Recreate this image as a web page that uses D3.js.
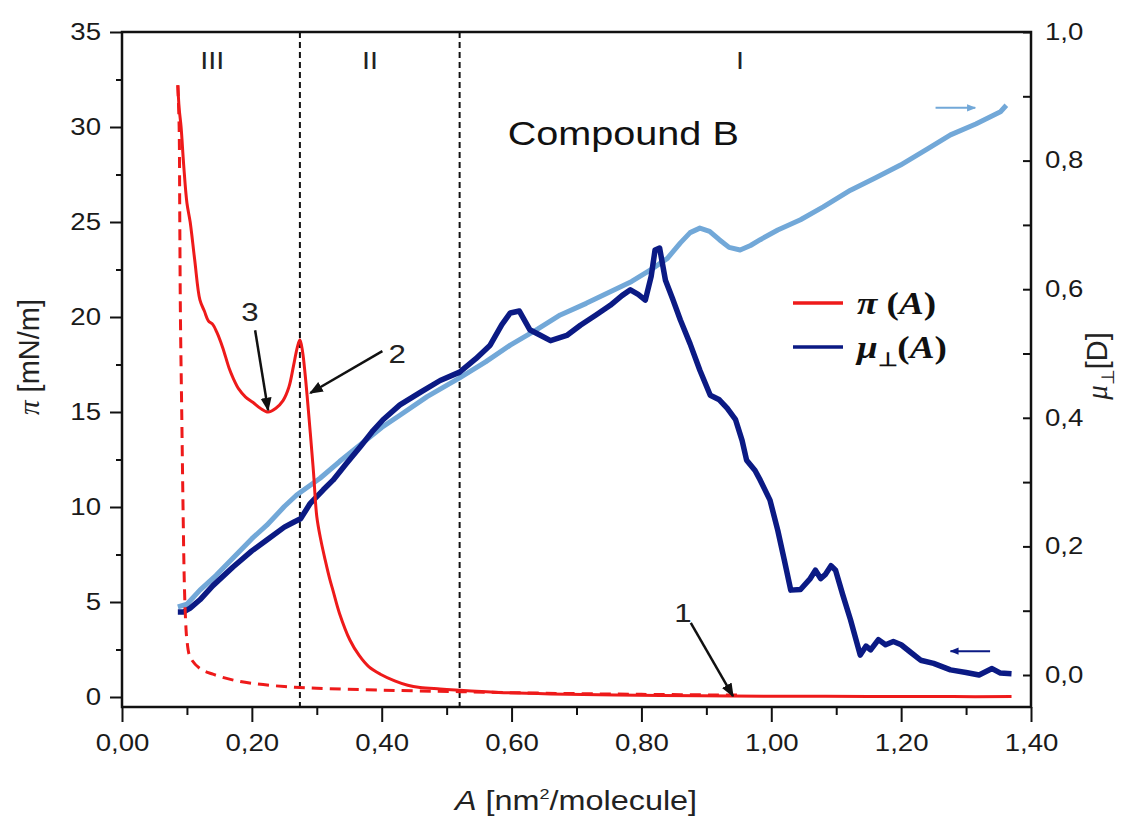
<!DOCTYPE html>
<html>
<head>
<meta charset="utf-8">
<script src="https://cdn.jsdelivr.net/npm/d3@7"></script>
<style>
  body { margin: 0; background: #fff; }
  svg { font-family: "Liberation Sans", Arial, sans-serif; }
  .tick text { font-size: 23px; fill: #1a1a1a; }
  .serif { font-family: "Liberation Serif", "Times New Roman", serif; }
</style>
</head>
<body>
<div id="chart"></div>
<script>
// surface pressure pi(A), compression
var piA  = [0.086,0.088,0.091,0.095,0.100,0.105,0.112,0.120,0.127,0.133,0.140,0.146,0.155,0.165,0.171,0.180,0.190,0.202,0.213,0.225,0.237,0.248,0.257,0.264,0.270,0.274,0.278,0.282,0.286,0.290,0.295,0.300,0.306,0.313,0.320,0.325,0.335,0.351,0.365,0.380,0.398,0.420,0.440,0.459,0.490,0.520,0.580,0.660,0.760,0.890,1.000,1.150,1.280,1.370];
var piV  = [32.2,31.0,30.0,28.0,26.0,25.0,23.0,20.9,20.3,19.8,19.6,19.2,18.4,17.3,16.8,16.2,15.8,15.5,15.2,15.0,15.2,15.6,16.3,17.4,18.4,18.8,18.2,17.0,15.5,13.9,11.8,9.5,8.3,7.2,6.2,5.6,4.4,3.0,2.2,1.6,1.2,0.85,0.62,0.50,0.42,0.35,0.24,0.16,0.10,0.06,0.04,0.03,0.02,0.02];
// surface pressure, first expansion (dashed)
var pi2A = [0.086,0.088,0.089,0.090,0.092,0.094,0.096,0.098,0.100,0.105,0.120,0.140,0.170,0.200,0.250,0.300,0.400,0.520,0.650,0.800,0.950];
var pi2V = [32.2,30.0,25.0,20.0,15.0,10.0,6.0,4.0,3.0,2.1,1.5,1.2,0.9,0.72,0.55,0.46,0.36,0.28,0.20,0.14,0.10];
// dipole moment, compression (dark blue)
var muA  = [0.086,0.095,0.105,0.120,0.140,0.171,0.200,0.223,0.250,0.265,0.275,0.290,0.310,0.325,0.345,0.367,0.385,0.402,0.428,0.460,0.490,0.520,0.545,0.567,0.585,0.598,0.612,0.628,0.645,0.660,0.685,0.706,0.730,0.752,0.770,0.783,0.795,0.806,0.815,0.821,0.828,0.837,0.848,0.860,0.875,0.890,0.906,0.920,0.932,0.945,0.955,0.962,0.975,0.983,0.998,1.010,1.020,1.030,1.045,1.060,1.068,1.076,1.083,1.092,1.099,1.110,1.122,1.137,1.146,1.153,1.165,1.176,1.188,1.200,1.215,1.230,1.250,1.276,1.300,1.320,1.340,1.353,1.370];
var muV  = [0.098,0.098,0.104,0.117,0.139,0.168,0.193,0.210,0.230,0.238,0.243,0.267,0.288,0.303,0.328,0.355,0.378,0.397,0.420,0.440,0.458,0.471,0.492,0.513,0.545,0.563,0.566,0.537,0.528,0.520,0.528,0.544,0.560,0.575,0.590,0.599,0.592,0.583,0.620,0.661,0.664,0.614,0.585,0.552,0.515,0.474,0.435,0.428,0.415,0.397,0.365,0.334,0.318,0.303,0.272,0.225,0.179,0.132,0.133,0.150,0.163,0.150,0.156,0.170,0.163,0.125,0.086,0.031,0.045,0.039,0.055,0.047,0.052,0.047,0.035,0.023,0.018,0.008,0.004,0.000,0.010,0.003,0.002];
// dipole moment, expansion (light blue)
var mu2A = [0.086,0.100,0.120,0.145,0.171,0.200,0.223,0.250,0.269,0.305,0.335,0.367,0.400,0.428,0.470,0.520,0.560,0.598,0.640,0.675,0.715,0.752,0.785,0.814,0.840,0.860,0.875,0.890,0.905,0.920,0.935,0.952,0.968,0.983,1.010,1.045,1.080,1.122,1.160,1.199,1.240,1.276,1.315,1.353,1.362];
var mu2V = [0.106,0.110,0.132,0.155,0.182,0.212,0.233,0.262,0.280,0.306,0.332,0.358,0.385,0.404,0.433,0.462,0.487,0.513,0.538,0.560,0.578,0.596,0.612,0.630,0.648,0.672,0.688,0.695,0.690,0.677,0.665,0.661,0.668,0.677,0.692,0.708,0.728,0.754,0.773,0.793,0.818,0.840,0.857,0.876,0.886];

var xTicks = [0, 0.2, 0.4, 0.6, 0.8, 1.0, 1.2, 1.4];
var xMinor = [0.1, 0.3, 0.5, 0.7, 0.9, 1.1, 1.3];
var yTicks = [0, 5, 10, 15, 20, 25, 30, 35];
var yMinor = [2.5, 7.5, 12.5, 17.5, 22.5, 27.5, 32.5];
var y2Ticks = [0, 0.2, 0.4, 0.6, 0.8, 1.0];
var y2Minor = [0.1, 0.3, 0.5, 0.7, 0.9];
var regionLines = [0.274, 0.52];
var regionNames = ["III", "II", "I"];
var regionPos = [0.139, 0.382, 0.952];

var red = "#ee1a1a", navy = "#0b1a84", sky = "#72a8d8";

var W = 1125, H = 816;
var pLeft = 122, pRight = 1031, pTop = 32, pBottom = 707;
var SX = 1.2; // the figure's text is a bit wider than plain Arial

var x = d3.scaleLinear().domain([0, 1.4]).range([pLeft, pRight]);
var y = d3.scaleLinear().domain([0, 35]).range([697, pTop]);
var y2 = d3.scaleLinear().domain([0, 1.0]).range([675, pTop]);

var loc = d3.formatLocale({decimal: ",", thousands: ".", grouping: [3], currency: ["", ""]});

var svg = d3.select("#chart").append("svg")
  .attr("width", W).attr("height", H);

function stretch(sel) {
  sel.each(function() {
    var w = this.getComputedTextLength();
    if (w > 0) d3.select(this).attr("textLength", w * SX).attr("lengthAdjust", "spacingAndGlyphs");
  });
}

// region separators
svg.selectAll("line.region")
  .data(regionLines)
  .enter().append("line")
  .attr("class", "region")
  .attr("x1", d => x(d)).attr("x2", d => x(d))
  .attr("y1", pTop).attr("y2", pBottom)
  .attr("stroke", "#111").attr("stroke-width", 2)
  .attr("stroke-dasharray", "6,4");

svg.selectAll("text.region")
  .data(regionNames)
  .enter().append("text")
  .attr("class", "region")
  .attr("x", (d, i) => x(regionPos[i]))
  .attr("y", 69)
  .attr("text-anchor", "middle")
  .style("font-size", "24px").style("fill", "#222")
  .text(d => d)
  .call(stretch);

var lineP = d3.line().x(d => x(d[0])).y(d => y(d[1])).curve(d3.curveCatmullRom);
var lineM = d3.line().x(d => x(d[0])).y(d => y2(d[1]));

svg.append("path")
  .datum(d3.zip(mu2A, mu2V))
  .attr("d", lineM)
  .attr("fill", "none").attr("stroke", sky).attr("stroke-width", 5)
  .attr("stroke-linejoin", "round");

svg.append("path")
  .datum(d3.zip(muA, muV))
  .attr("d", lineM)
  .attr("fill", "none").attr("stroke", navy).attr("stroke-width", 5.5)
  .attr("stroke-linejoin", "round");

svg.append("path")
  .datum(d3.zip(pi2A, pi2V))
  .attr("d", lineP)
  .attr("fill", "none").attr("stroke", red).attr("stroke-width", 3)
  .attr("stroke-dasharray", "11,7");

svg.append("path")
  .datum(d3.zip(piA, piV))
  .attr("d", lineP)
  .attr("fill", "none").attr("stroke", red).attr("stroke-width", 3);

// axes
svg.append("g").attr("transform", "translate(0," + pBottom + ")")
  .call(d3.axisBottom(x).tickValues(xTicks).tickSize(15).tickPadding(13).tickFormat(loc.format(".2f")));
svg.append("g").attr("transform", "translate(0," + pBottom + ")")
  .call(d3.axisBottom(x).tickValues(xMinor).tickSize(8).tickFormat(""));

svg.append("g").attr("transform", "translate(" + pLeft + ",0)")
  .call(d3.axisLeft(y).tickValues(yTicks).tickSize(12).tickPadding(9).tickFormat(d3.format("d")));
svg.append("g").attr("transform", "translate(" + pLeft + ",0)")
  .call(d3.axisLeft(y).tickValues(yMinor).tickSize(6).tickFormat(""));

svg.append("g").attr("transform", "translate(" + pRight + ",0)")
  .call(d3.axisRight(y2).tickValues(y2Ticks).tickSize(-8).tickPadding(14).tickFormat(loc.format(".1f")));
svg.append("g").attr("transform", "translate(" + pRight + ",0)")
  .call(d3.axisRight(y2).tickValues(y2Minor).tickSize(-8).tickFormat(""));

svg.selectAll(".domain").remove();
svg.selectAll(".tick line").attr("stroke", "#111").attr("stroke-width", 2);
svg.selectAll(".tick text").call(stretch);

svg.append("rect")
  .attr("x", pLeft).attr("y", pTop)
  .attr("width", pRight - pLeft).attr("height", pBottom - pTop)
  .attr("fill", "none").attr("stroke", "#111").attr("stroke-width", 2.5);

// axis titles
var tl = svg.append("text")
  .attr("transform", "translate(39,357) rotate(-90)")
  .attr("text-anchor", "middle")
  .style("font-size", "29px").style("fill", "#222");
tl.append("tspan").attr("class", "serif").style("font-style", "italic").text("π");
tl.append("tspan").text(" [mN/m]");

var tb = svg.append("text")
  .attr("transform", "translate(576,810) scale(" + SX + ",1)")
  .attr("text-anchor", "middle")
  .style("font-size", "27px").style("fill", "#222");
tb.append("tspan").style("font-style", "italic").text("A");
tb.append("tspan").text(" [nm");
tb.append("tspan").attr("dy", -11).style("font-size", "15px").text("2");
tb.append("tspan").attr("dy", 11).text("/molecule]");

var tr = svg.append("text")
  .attr("transform", "translate(1107,366) rotate(-90)")
  .attr("text-anchor", "middle")
  .style("font-size", "29px").style("fill", "#222");
tr.append("tspan").attr("class", "serif").style("font-style", "italic").text("μ");
tr.append("tspan").attr("dy", 7).style("font-size", "18px").text("⊥");
tr.append("tspan").attr("dy", -7).text("[D]");

// compound label
svg.append("text")
  .attr("x", x(0.772)).attr("y", y(29.7) + 12)
  .attr("text-anchor", "middle")
  .style("font-size", "33px").style("fill", "#111")
  .text("Compound B")
  .call(stretch);

// legend
var legName = ["π", "μ"];
var legCol = [red, navy];
var leg = svg.selectAll("g.leg")
  .data(legName)
  .enter().append("g")
  .attr("class", "leg")
  .attr("transform", (d, i) => "translate(793," + (303 + i * 44) + ")");
leg.append("line")
  .attr("x1", 0).attr("x2", 50)
  .attr("stroke", (d, i) => legCol[i]).attr("stroke-width", 3.5);
leg.each(function(d, i) {
  var t = d3.select(this).append("text")
    .attr("class", "serif")
    .attr("transform", "translate(64,11) scale(" + SX + ",1)")
    .style("font-size", "31px").style("font-weight", "bold")
    .style("fill", "#111");
  t.append("tspan").style("font-style", "italic").text(d);
  if (i == 1) {
    t.append("tspan").attr("dy", 8).style("font-size", "19px").text("⊥");
    t.append("tspan").attr("dy", -8).text("(");
  } else {
    t.append("tspan").text(" (");
  }
  t.append("tspan").style("font-style", "italic").text("A");
  t.append("tspan").text(")");
});

// annotation arrows
var defs = svg.append("defs");
function marker(id, col, w) {
  defs.append("marker")
    .attr("id", id).attr("viewBox", "0 0 10 10")
    .attr("refX", 9).attr("refY", 5)
    .attr("markerWidth", w).attr("markerHeight", w)
    .attr("orient", "auto")
    .append("path").attr("d", "M0,1 L10,5 L0,9 Z").attr("fill", col);
}
marker("ah", "#111", 5.5);
marker("ahSky", sky, 4.5);
marker("ahNavy", navy, 4.5);

var annNum = ["3", "2", "1"];
var annLabel = [[0.197, 20.3], [0.424, 18.1], [0.864, 4.5]];
var annFrom = [[0.205, 19.3], [0.401, 18.2], [0.876, 3.9]];
var annTo = [[0.225, 15.1], [0.290, 16.0], [0.941, 0.05]];

svg.selectAll("line.ann")
  .data(annNum)
  .enter().append("line")
  .attr("class", "ann")
  .attr("x1", (d, i) => x(annFrom[i][0])).attr("y1", (d, i) => y(annFrom[i][1]))
  .attr("x2", (d, i) => x(annTo[i][0])).attr("y2", (d, i) => y(annTo[i][1]))
  .attr("stroke", "#111").attr("stroke-width", 2.5)
  .attr("marker-end", "url(#ah)");

svg.selectAll("text.ann")
  .data(annNum)
  .enter().append("text")
  .attr("class", "ann")
  .attr("x", (d, i) => x(annLabel[i][0])).attr("y", (d, i) => y(annLabel[i][1]) + 10)
  .attr("text-anchor", "middle")
  .style("font-size", "26px").style("fill", "#222")
  .text(d => d)
  .call(stretch);

// direction arrows
svg.append("line")
  .attr("x1", x(1.253)).attr("x2", x(1.314))
  .attr("y1", y2(0.882)).attr("y2", y2(0.882))
  .attr("stroke", sky).attr("stroke-width", 2).attr("marker-end", "url(#ahSky)");
svg.append("line")
  .attr("x1", x(1.337)).attr("x2", x(1.276))
  .attr("y1", y2(0.037)).attr("y2", y2(0.037))
  .attr("stroke", navy).attr("stroke-width", 2).attr("marker-end", "url(#ahNavy)");
</script>
</body>
</html>
